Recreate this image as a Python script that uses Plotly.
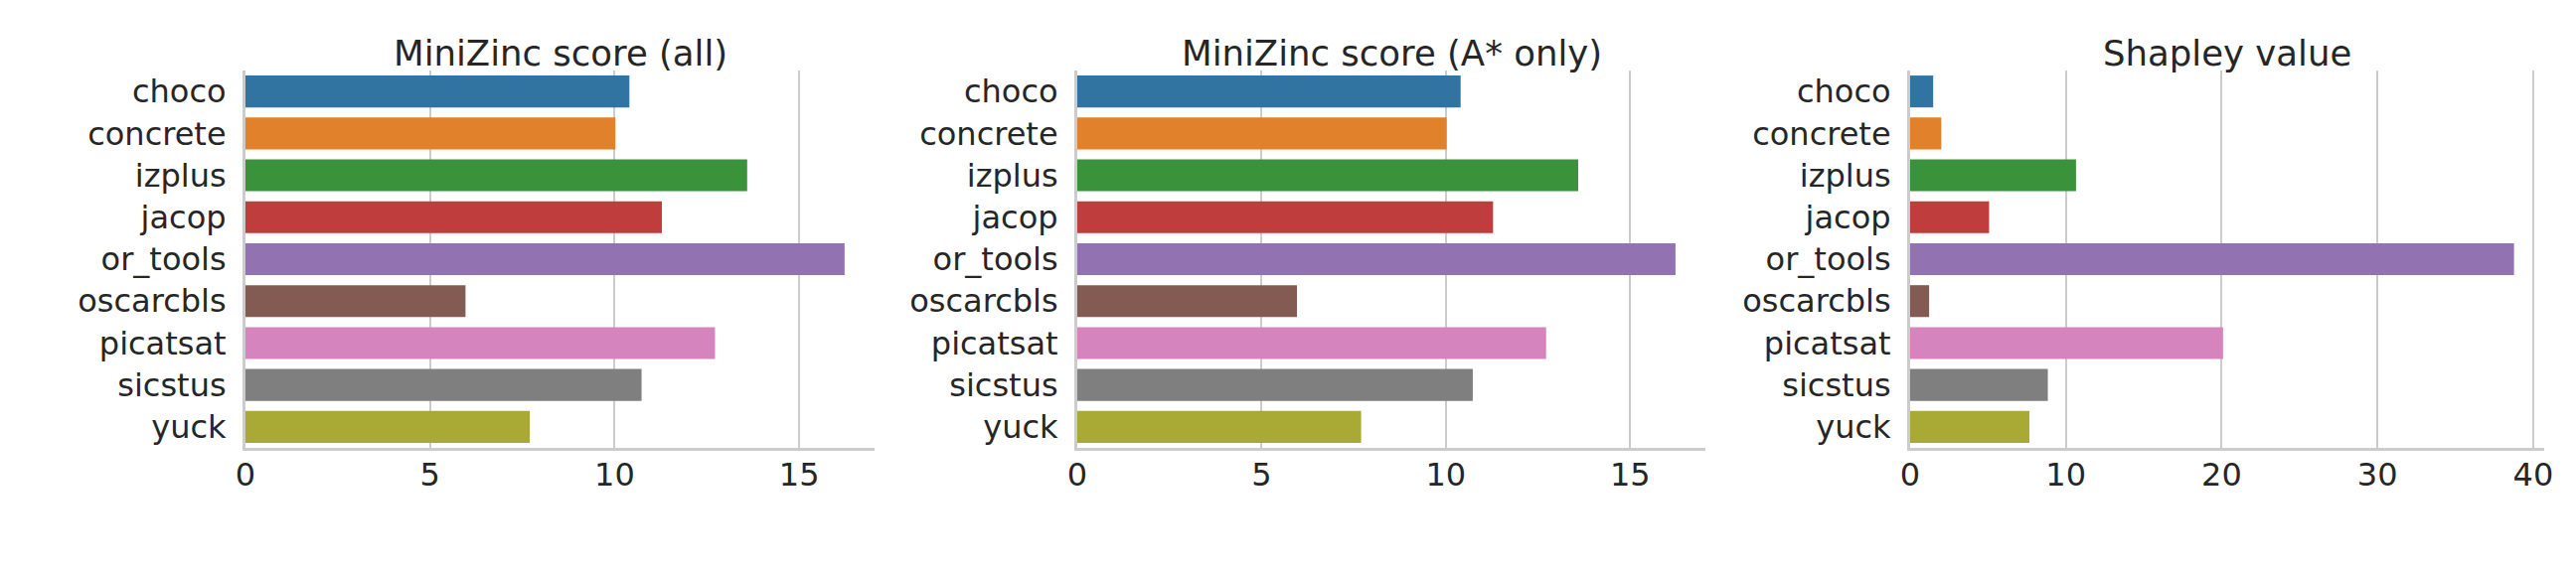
import plotly.graph_objects as go

# solvers and scores
solvers = ["choco", "concrete", "izplus", "jacop", "or_tools",
           "oscarcbls", "picatsat", "sicstus", "yuck"]
score_all = [10.40, 10.02, 13.59, 11.28, 16.23, 5.96, 12.72, 10.73, 7.70]
score_astar = [10.40, 10.02, 13.59, 11.28, 16.23, 5.96, 12.72, 10.73, 7.70]
shapley = [1.48, 2.0, 10.65, 5.07, 38.77, 1.22, 20.09, 8.84, 7.66]

titles = ["MiniZinc score (all)", "MiniZinc score (A* only)", "Shapley value"]
tickvals = [[0, 5, 10, 15], [0, 5, 10, 15], [0, 10, 20, 30, 40]]

# seaborn tab10 at saturation 0.75
colors = ["#3274a1", "#e1812c", "#3a923a", "#c03d3e", "#9372b2",
          "#845b53", "#d684bd", "#7f7f7f", "#a9aa35"]

W, H = 2592, 576
off = 8  # page body margin
domains = [((247 - off) / W, (880 - off) / W),
           ((1084 - off) / W, (1716 - off) / W),
           ((1922 - off) / W, (2560 - off) / W)]
ydom = (1 - (451 - off) / H, 1 - (71 - off) / H)

fig = go.Figure()
font = "DejaVu Sans"
txt = "#262626"

for i, vals in enumerate([score_all, score_astar, shapley]):
    n = "" if i == 0 else str(i + 1)
    fig.add_trace(go.Bar(
        x=vals, y=solvers, orientation="h",
        marker=dict(color=colors, line=dict(width=0)),
        xaxis="x" + n, yaxis="y" + n, showlegend=False,
    ))
    fig.update_layout(**{
        "xaxis" + n: dict(
            domain=domains[i], anchor="y" + n, automargin=False,
            range=[0, max(vals) * 1.05], tickvals=tickvals[i],
            showgrid=True, gridcolor="#cccccc", gridwidth=2,
            zeroline=False, showline=True, linecolor="#cccccc", linewidth=3,
            ticks="outside", ticklen=0, ticklabelstandoff=-3,
            tickcolor="rgba(0,0,0,0)",
            tickfont=dict(family=font, size=32, color=txt),
        ),
        "yaxis" + n: dict(
            domain=ydom, anchor="x" + n, automargin=False,
            categoryorder="array", categoryarray=solvers,
            autorange="reversed", showgrid=False, zeroline=False,
            showline=True, linecolor="#cccccc", linewidth=3,
            ticks="outside", ticklen=10, tickcolor="rgba(0,0,0,0)",
            tickfont=dict(family=font, size=32, color=txt),
        ),
    })
    fig.add_annotation(
        text=titles[i], xref="paper", yref="paper",
        x=(domains[i][0] + domains[i][1]) / 2, y=ydom[1],
        xanchor="center", yanchor="bottom", yshift=-5, showarrow=False,
        font=dict(family=font, size=35.5, color=txt),
    )

fig.update_layout(
    width=W, height=H, margin=dict(l=0, r=0, t=0, b=0),
    plot_bgcolor="white", paper_bgcolor="white", bargap=0.24,
)

fig.write_html("out.html")
